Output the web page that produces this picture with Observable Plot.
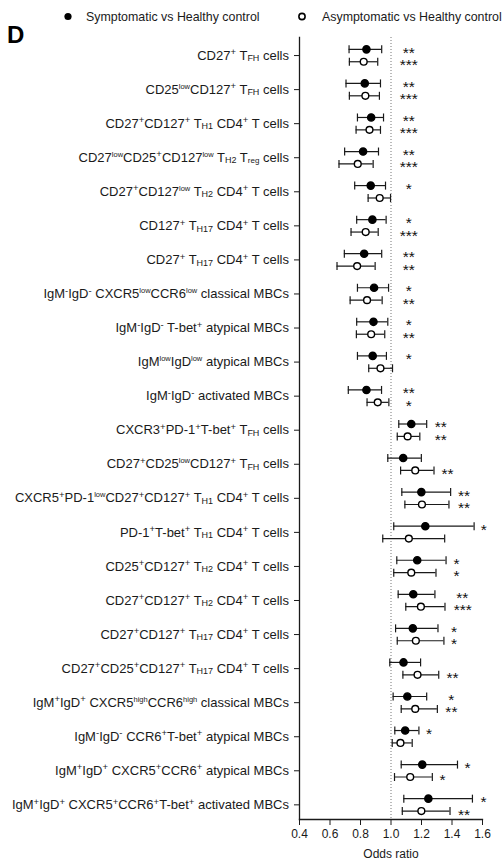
<!DOCTYPE html>
<html>
<head>
<meta charset="utf-8">
<script src="https://cdn.jsdelivr.net/npm/d3@7"></script>
<script src="https://cdn.jsdelivr.net/npm/@observablehq/plot@0.6"></script>
<style>
  html, body { margin: 0; padding: 0; background: #fff; }
  #wrap { position: relative; width: 503px; height: 859px; overflow: hidden; }
  #wrap > svg { position: absolute; left: 0; top: 0; }
  text { white-space: pre; }
</style>
</head>
<body>
<div id="wrap"></div>
<script>
// ---------------- data ----------------
const cellTypes = [
  "CD27^{+} T_{FH} cells",
  "CD25^{low}CD127^{+} T_{FH} cells",
  "CD27^{+}CD127^{+} T_{H1} CD4^{+} T cells",
  "CD27^{low}CD25^{+}CD127^{low} T_{H2} T_{reg} cells",
  "CD27^{+}CD127^{low} T_{H2} CD4^{+} T cells",
  "CD127^{+} T_{H17} CD4^{+} T cells",
  "CD27^{+} T_{H17} CD4^{+} T cells",
  "IgM^{-}IgD^{-} CXCR5^{low}CCR6^{low} classical MBCs",
  "IgM^{-}IgD^{-} T-bet^{+} atypical MBCs",
  "IgM^{low}IgD^{low} atypical MBCs",
  "IgM^{-}IgD^{-} activated MBCs",
  "CXCR3^{+}PD-1^{+}T-bet^{+} T_{FH} cells",
  "CD27^{+}CD25^{low}CD127^{+} T_{FH} cells",
  "CXCR5^{+}PD-1^{low}CD27^{+}CD127^{+} T_{H1} CD4^{+} T cells",
  "PD-1^{+}T-bet^{+} T_{H1} CD4^{+} T cells",
  "CD25^{+}CD127^{+} T_{H2} CD4^{+} T cells",
  "CD27^{+}CD127^{+} T_{H2} CD4^{+} T cells",
  "CD27^{+}CD127^{+} T_{H17} CD4^{+} T cells",
  "CD27^{+}CD25^{+}CD127^{+} T_{H17} CD4^{+} T cells",
  "IgM^{+}IgD^{+} CXCR5^{high}CCR6^{high} classical MBCs",
  "IgM^{-}IgD^{-} CCR6^{+}T-bet^{+} atypical MBCs",
  "IgM^{+}IgD^{+} CXCR5^{+}CCR6^{+} atypical MBCs",
  "IgM^{+}IgD^{+} CXCR5^{+}CCR6^{+}T-bet^{+} activated MBCs"
];

// Symptomatic vs Healthy control (filled)
const sympOR = [0.839, 0.828, 0.870, 0.817, 0.867, 0.878, 0.824, 0.889, 0.885, 0.880, 0.839,
                1.133, 1.080, 1.199, 1.225, 1.172, 1.146, 1.143, 1.082, 1.107, 1.093, 1.205, 1.245];
const sympLo = [0.725, 0.705, 0.780, 0.696, 0.762, 0.775, 0.694, 0.780, 0.775, 0.780, 0.720,
                1.051, 0.979, 1.071, 1.018, 1.038, 1.047, 1.030, 0.992, 1.014, 1.025, 1.067, 1.084];
const sympHi = [0.939, 0.931, 0.951, 0.918, 0.964, 0.968, 0.939, 0.984, 0.979, 0.970, 0.938,
                1.234, 1.199, 1.391, 1.545, 1.361, 1.288, 1.308, 1.194, 1.234, 1.183, 1.436, 1.534];
const sympSig = ["**", "**", "**", "**", "*", "*", "**", "*", "*", "*", "**",
                 "**", "", "**", "*", "*", "**", "*", "", "*", "*", "*", "*"];
const sympSigAt = [1.117, 1.117, 1.117, 1.117, 1.117, 1.117, 1.117, 1.117, 1.117, 1.117, 1.117,
                   1.326, null, 1.479, 1.609, 1.429, 1.468, 1.413, null, 1.396, 1.249, 1.502, 1.607];

// Asymptomatic vs Healthy control (open)
const asymOR = [0.821, 0.832, 0.859, 0.782, 0.926, 0.834, 0.778, 0.843, 0.870, 0.931, 0.913,
                1.109, 1.159, 1.203, 1.117, 1.133, 1.196, 1.163, 1.174, 1.159, 1.062, 1.126, 1.199];
const asymLo = [0.727, 0.727, 0.771, 0.659, 0.850, 0.738, 0.646, 0.732, 0.773, 0.854, 0.843,
                1.041, 1.063, 1.091, 0.946, 1.018, 1.097, 1.041, 1.078, 1.067, 1.008, 1.023, 1.074];
const asymHi = [0.913, 0.924, 0.931, 0.883, 0.997, 0.916, 0.896, 0.942, 0.959, 1.010, 0.986,
                1.189, 1.282, 1.380, 1.352, 1.295, 1.354, 1.347, 1.313, 1.304, 1.139, 1.271, 1.387];
const asymSig = ["***", "***", "***", "***", "", "***", "**", "**", "**", "", "*",
                 "**", "**", "**", "", "*", "***", "*", "**", "**", "", "*", "**"];
const asymSigAt = [1.117, 1.117, 1.117, 1.117, null, 1.117, 1.117, 1.117, 1.117, null, 1.117,
                   1.326, 1.370, 1.479, null, 1.429, 1.470, 1.413, 1.403, 1.396, null, 1.337, 1.479];

const xTicks = [0.4, 0.6, 0.8, 1.0, 1.2, 1.4, 1.6];
const legendLabels = ["Symptomatic vs Healthy control", "Asymptomatic vs Healthy control"];
const panelLetter = "D";

// ---------------- helpers ----------------
const plain = s => s.replace(/[\^_]\{([^}]*)\}/g, "$1");
const plainToMarkup = new Map(cellTypes.map(s => [plain(s), s]));

function parseMarkup(s) {
  const out = [];
  const re = /([\^_])\{([^}]*)\}|([^\^_]+)/g;
  let m;
  while ((m = re.exec(s))) {
    if (m[3] !== undefined) out.push({t: m[3], k: "n"});
    else out.push({t: m[2], k: m[1] === "^" ? "sup" : "sub"});
  }
  return out;
}

function richify(textEl, markup, baseSize) {
  const segs = parseMarkup(markup);
  while (textEl.firstChild) textEl.removeChild(textEl.firstChild);
  let cur = 0;
  for (const s of segs) {
    const ts = document.createElementNS("http://www.w3.org/2000/svg", "tspan");
    let shift = 0, size = baseSize;
    if (s.k === "sup") {
      const sym = /^[+\-]$/.test(s.t);
      size = sym ? 9.5 : 7.5;
      shift = sym ? -4.5 : -5;
    } else if (s.k === "sub") {
      size = s.t === "reg" ? 8 : 9;
      shift = 1.5;
    }
    if (shift !== cur) ts.setAttribute("dy", shift - cur);
    cur = shift;
    if (size !== baseSize) ts.setAttribute("font-size", size);
    ts.textContent = s.t;
    textEl.appendChild(ts);
  }
}

// ---------------- build chart ----------------
const mk = (or, lo, hi, sig, at) => cellTypes.map((_, i) => ({i, or: or[i], lo: lo[i], hi: hi[i], sig: sig[i], at: at[i]}));
const symp = mk(sympOR, sympLo, sympHi, sympSig, sympSigAt);
const asym = mk(asymOR, asymLo, asymHi, asymSig, asymSigAt);

const capSymbol = {
  draw(ctx, size) {
    const h = Math.sqrt(size / Math.PI);
    ctx.moveTo(0, -h);
    ctx.lineTo(0, h);
  }
};

const OFF = 6.2;
const INK = "#1a1a1a";

function seriesMarks(data, dy, filled) {
  return [
    Plot.ruleY(data, {y: "i", x1: "lo", x2: "hi", dy, stroke: INK, strokeWidth: 1.2}),
    Plot.dot(data, {y: "i", x: "lo", dy, symbol: capSymbol, r: 4, fill: "none", stroke: INK, strokeWidth: 1.2}),
    Plot.dot(data, {y: "i", x: "hi", dy, symbol: capSymbol, r: 4, fill: "none", stroke: INK, strokeWidth: 1.2}),
    Plot.dot(data, {y: "i", x: "or", dy, r: filled ? 3.6 : 3.4, fill: filled ? "#000" : "#fff", stroke: "#000", strokeWidth: 1.4}),
    Plot.text(data.filter(d => d.sig), {y: "i", x: "at", text: "sig", dy: dy + 3.5, fontSize: 15.5, textAnchor: "middle", fill: "#111"})
  ];
}

const chart = Plot.plot({
  width: 503,
  height: 859,
  marginLeft: 299,
  marginRight: 21,
  marginTop: 37,
  marginBottom: 40,
  style: {fontFamily: "'Liberation Sans', Arial, sans-serif", fontSize: "12px", color: INK, background: "transparent"},
  x: {domain: [0.4, 1.6]},
  y: {domain: [-0.53, cellTypes.length - 1 + 0.43], reverse: true},
  marks: [
    Plot.ruleX([1], {stroke: "#777", strokeWidth: 1, strokeDasharray: "1,2"}),
    Plot.frame({anchor: "left", stroke: INK, strokeWidth: 1.3}),
    Plot.frame({anchor: "bottom", stroke: INK, strokeWidth: 1.3}),
    ...seriesMarks(symp, -OFF, true),
    ...seriesMarks(asym, OFF, false),
    Plot.axisY({ticks: d3.range(cellTypes.length), tickFormat: i => plain(cellTypes[i]), tickSize: 5, tickPadding: 5.5, fontSize: 13, label: null}),
    Plot.axisX({ticks: xTicks, tickFormat: d3.format(".1f"), tickSize: 6, tickPadding: 4, fontSize: 12, label: "Odds ratio", labelArrow: "none", labelAnchor: "center", labelOffset: 38})
  ]
});

// rich text labels (super/subscripts)
chart.querySelectorAll('g[aria-label="y-axis tick label"] text').forEach(t => {
  const key = t.textContent;
  const markup = plainToMarkup.get(key);
  if (markup) richify(t, markup, 13);
});
// make sure no arrow remains in the x label
chart.querySelectorAll('g[aria-label="x-axis label"] text').forEach(t => {
  t.textContent = t.textContent.replace(/\s*[→←↑↓]\s*/g, "").trim();
});

const wrap = document.getElementById("wrap");
wrap.appendChild(chart);

// legend + panel letter (overlay above the plot area)
const NS = "http://www.w3.org/2000/svg";
const leg = document.createElementNS(NS, "svg");
leg.setAttribute("width", 503);
leg.setAttribute("height", 50);
leg.style.fontFamily = "'Liberation Sans', Arial, sans-serif";
const add = (tag, attrs, txt) => {
  const e = document.createElementNS(NS, tag);
  for (const k in attrs) e.setAttribute(k, attrs[k]);
  if (txt != null) e.textContent = txt;
  leg.appendChild(e);
  return e;
};
add("text", {x: 7, y: 43, "font-size": 24, "font-weight": "bold", fill: "#000"}, panelLetter);
add("circle", {cx: 68, cy: 16.5, r: 3.6, fill: "#000"});
add("text", {x: 86, y: 21, "font-size": 12.4, fill: INK}, legendLabels[0]);
add("circle", {cx: 302, cy: 16.5, r: 3.1, fill: "#fff", stroke: "#000", "stroke-width": 1.6});
add("text", {x: 322, y: 21, "font-size": 12.4, fill: INK}, legendLabels[1]);
wrap.appendChild(leg);
</script>
</body>
</html>
